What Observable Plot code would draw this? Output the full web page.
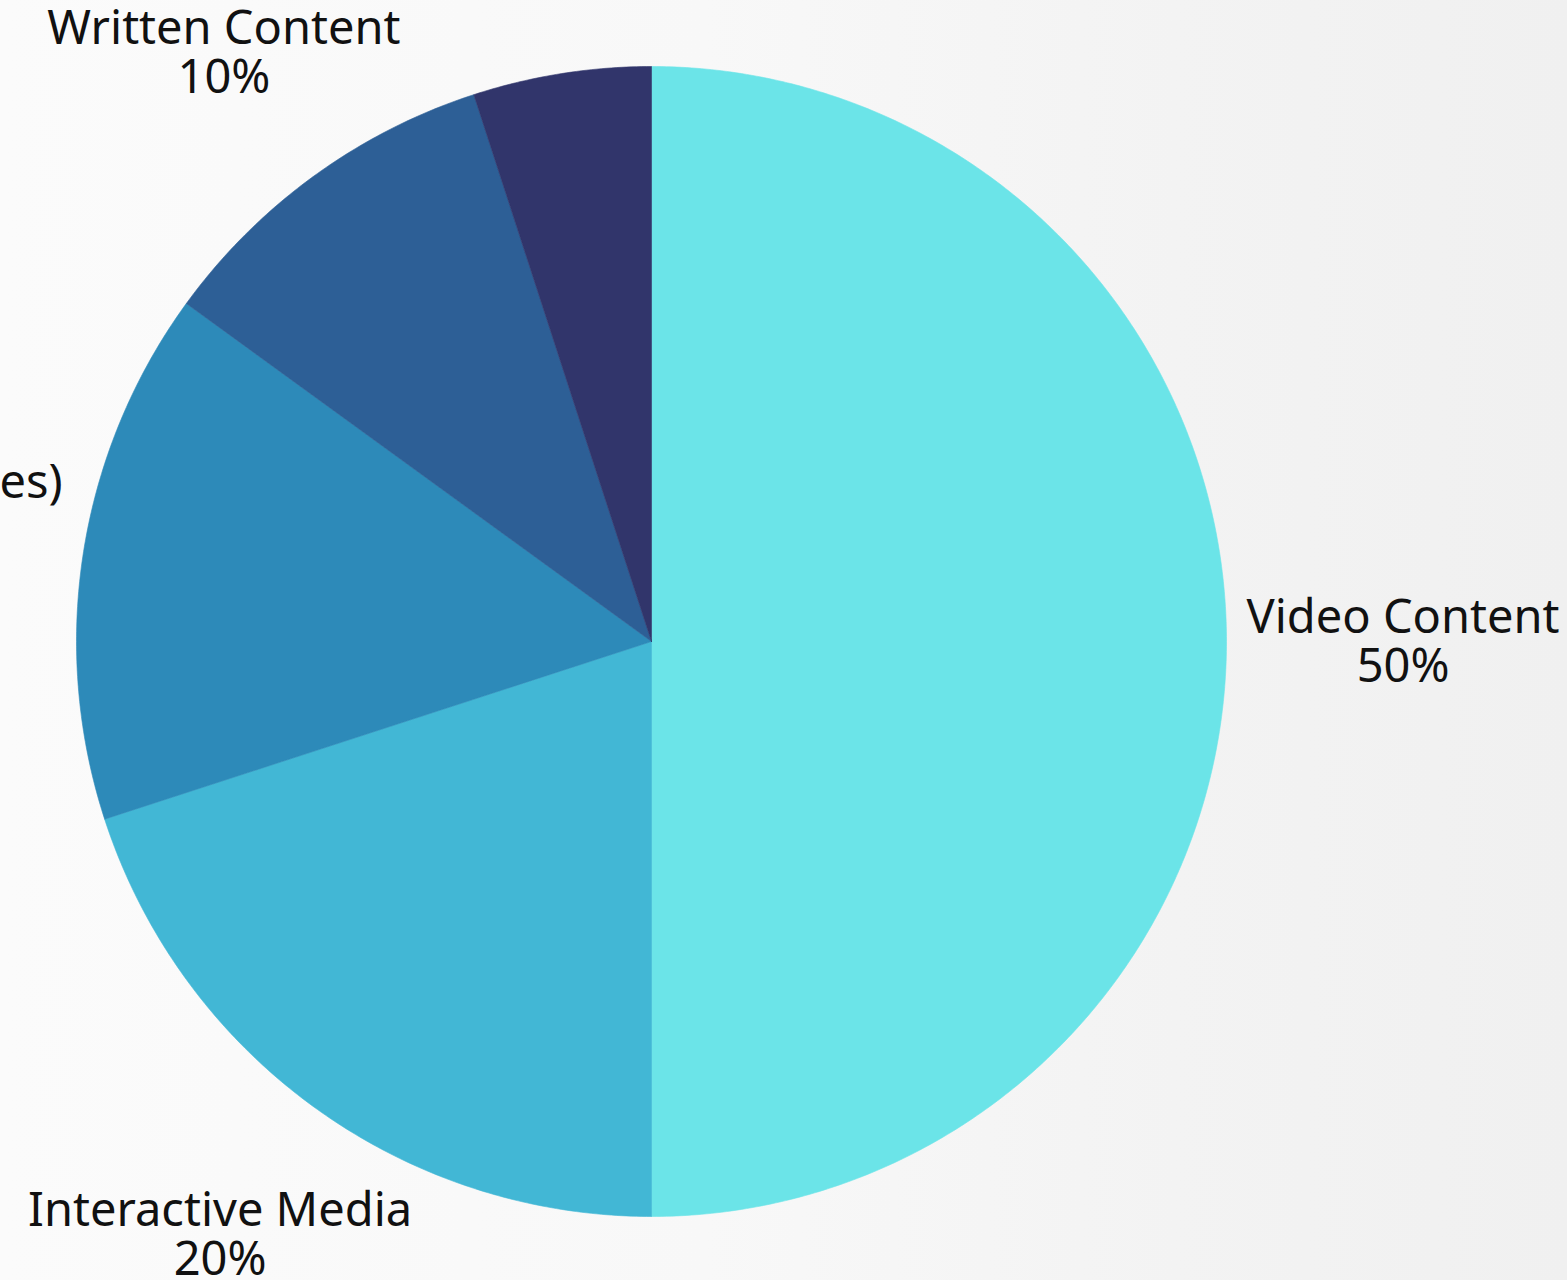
<!DOCTYPE html>
<html>
<head>
<meta charset="utf-8">
<script src="https://cdn.jsdelivr.net/npm/d3@7"></script>
<script src="https://cdn.jsdelivr.net/npm/@observablehq/plot@0.6"></script>
<style>
  html, body { margin: 0; padding: 0; width: 1567px; height: 1280px; overflow: hidden; }
  body { background: linear-gradient(90deg, #fbfbfb 0%, #f8f8f8 45%, #f3f3f3 75%, #f0f0f0 100%); }
  #chart svg { display: block; }
</style>
</head>
<body>
<div id="chart"></div>
<script>
// ---- Data ----
const categories = ["Video Content", "Interactive Media", "Visual Content (Images)", "Written Content", "Audio Content (Podcasts)"];
const shares = [50, 20, 15, 10, 5];
const sliceColors = ["#6be4e8", "#42b7d5", "#2d8ab9", "#2d5f96", "#31356b"];
const labelShown = [true, true, true, true, false];

// ---- Layout ----
const W = 1567, H = 1280;
const cx = 651, cy = 641, R = 575, labelGap = 20;
const fontSize = 47, lineH = 49;
const fontFamily = "'Noto Sans', 'Open Sans', sans-serif";

const total = d3.sum(shares);
const slices = [];
let acc = 0;
categories.forEach((name, i) => {
  const a0 = acc / total * 2 * Math.PI;
  acc += shares[i];
  const a1 = acc / total * 2 * Math.PI;
  slices.push({name, value: shares[i], a0, a1, i});
});

// polygon points for each slice (angle measured clockwise from top)
const pts = [];
for (const s of slices) {
  pts.push({name: s.name, x: cx, y: cy});
  const n = Math.max(2, Math.ceil((s.a1 - s.a0) / (Math.PI / 360)));
  for (let k = 0; k <= n; k++) {
    const a = s.a0 + (s.a1 - s.a0) * k / n;
    pts.push({name: s.name, x: cx + R * Math.sin(a), y: cy - R * Math.cos(a)});
  }
  pts.push({name: s.name, x: cx, y: cy});
}

// label placement: box just outside circle along the mid-angle
const ctx = document.createElement("canvas").getContext("2d");
ctx.font = `${fontSize}px ${fontFamily}`;
const labels = slices.filter(s => labelShown[s.i]).map(s => {
  const lines = [s.name, `${s.value}%`];
  const w = d3.max(lines, t => ctx.measureText(t).width);
  const h = lines.length * lineH;
  const mid = (s.a0 + s.a1) / 2;
  const ux = Math.sin(mid), uy = -Math.cos(mid);
  let lo = 0, hi = 2000;
  for (let k = 0; k < 60; k++) {
    const d = (lo + hi) / 2;
    const dx = Math.max(Math.abs(d * ux) - w / 2, 0);
    const dy = Math.max(Math.abs(d * uy) - h / 2, 0);
    if (Math.hypot(dx, dy) < R + labelGap) lo = d; else hi = d;
  }
  const d = hi;
  return {x: cx + d * ux, y: cy + d * uy, text: lines.join("\n")};
});

const chart = Plot.plot({
  width: W,
  height: H,
  margin: 0,
  x: {domain: [0, W], range: [0, W], axis: null},
  y: {domain: [0, H], range: [0, H], axis: null},
  color: {domain: categories, range: sliceColors},
  style: {background: "transparent", overflow: "visible"},
  marks: [
    Plot.line(pts, {x: "x", y: "y", z: "name", fill: "name", stroke: "name", strokeWidth: 0.6, curve: "linear"}),
    Plot.text(labels, {
      x: "x", y: "y", text: "text",
      fontSize, fontFamily, fill: "#111111",
      lineHeight: lineH / fontSize, textAnchor: "middle", lineAnchor: "middle"
    })
  ]
});
document.getElementById("chart").appendChild(chart);
</script>
</body>
</html>
